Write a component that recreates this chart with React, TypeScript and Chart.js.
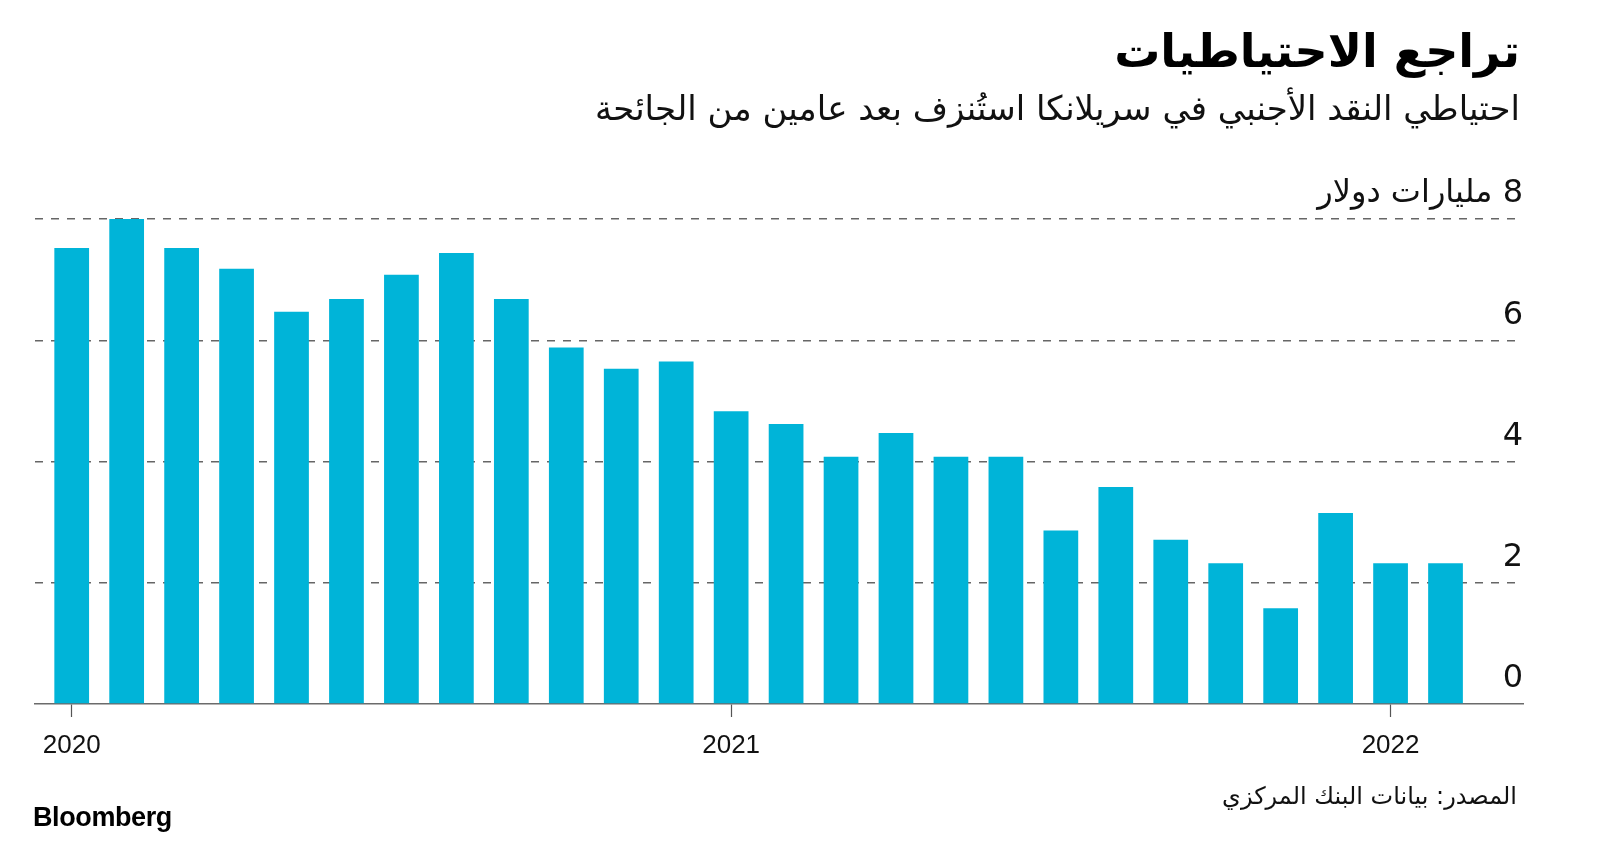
import React, { useEffect, useRef } from "react";
import { Chart, registerables } from "chart.js";

Chart.register(...registerables);

// Monthly foreign reserves, Jan 2020 .. Feb 2022 (USD billions)
const months = [
  "2020-01", "2020-02", "2020-03", "2020-04", "2020-05", "2020-06",
  "2020-07", "2020-08", "2020-09", "2020-10", "2020-11", "2020-12",
  "2021-01", "2021-02", "2021-03", "2021-04", "2021-05", "2021-06",
  "2021-07", "2021-08", "2021-09", "2021-10", "2021-11", "2021-12",
  "2022-01", "2022-02",
];
const reserves = [
  7.52, 8.0, 7.52, 7.18, 6.47, 6.68, 7.08, 7.44, 6.68, 5.88, 5.53, 5.65,
  4.83, 4.62, 4.08, 4.47, 4.08, 4.08, 2.86, 3.58, 2.71, 2.32, 1.58, 3.15,
  2.32, 2.32,
];
const yearTickIndex = [0, 12, 24];
const yearTickLabels = ["2020", "2021", "2022"];
const yTickValues = [0, 2, 4, 6, 8];
const yUnit = "مليارات دولار";

const titleText = "تراجع الاحتياطيات";
const subtitleText = "احتياطي النقد الأجنبي في سريلانكا استُنزف بعد عامين من الجائحة";
const sourceText = "المصدر: بيانات البنك المركزي";
const brandText = "Bloomberg";

const ARABIC_FONT = "'DejaVu Sans', 'Noto Sans', sans-serif";
const LATIN_FONT = "'Liberation Sans', Arial, 'DejaVu Sans', sans-serif";

export default function App() {
  const canvasRef = useRef<HTMLCanvasElement | null>(null);

  useEffect(() => {
    const canvas = canvasRef.current;
    if (!canvas) return;
    const chart = new Chart(canvas, {
      type: "bar",
      data: {
        datasets: [
          {
            label: "reserves",
            data: reserves.map((v, i) => ({ x: i, y: v })) as any,
            backgroundColor: "#00b4d8",
            borderWidth: 0,
            barPercentage: 1,
            categoryPercentage: 0.632,
          },
        ],
      },
      options: {
        animation: false,
        responsive: false,
        maintainAspectRatio: false,
        layout: { padding: { top: 219, left: 35, right: 77, bottom: 0 } },
        plugins: {
          legend: { display: false },
          tooltip: { enabled: false },
          title: { display: false },
        },
        scales: {
          x: {
            type: "linear",
            min: -0.668,
            max: 26.41,
            offset: false,
            grid: {
              offset: false,
              drawOnChartArea: false,
              drawTicks: true,
              tickLength: 13,
              tickColor: "#555555",
              tickWidth: 1.2,
            },
            border: { display: true, color: "#6b6b6b", width: 1.5 },
            afterBuildTicks: (scale: any) => {
              scale.ticks = yearTickIndex.map((v) => ({ value: v }));
            },
            afterFit: (scale: any) => {
              scale.height = 138;
            },
            ticks: {
              autoSkip: false,
              maxRotation: 0,
              padding: 13,
              color: "#111111",
              font: { family: LATIN_FONT, size: 26 },
              callback: (value: any) => {
                const k = yearTickIndex.indexOf(Number(value));
                return k >= 0 ? yearTickLabels[k] : "";
              },
            },
          },
          y: {
            position: "right",
            min: 0,
            max: 8,
            afterBuildTicks: (scale: any) => {
              scale.ticks = yTickValues.map((v) => ({ value: v }));
            },
            afterFit: (scale: any) => {
              scale.width = 0;
            },
            grid: {
              drawTicks: false,
              lineWidth: 1.5,
              color: (ctx: any) =>
                ctx.tick && ctx.tick.value === 0 ? "rgba(0,0,0,0)" : "#666666",
            },
            border: { display: false, dash: [8, 8] },
            ticks: {
              mirror: true,
              padding: 0,
              labelOffset: -25,
              color: "#111111",
              font: { family: ARABIC_FONT, size: 32 },
              callback: (value: any) =>
                Number(value) === 8 ? `8 ${yUnit}` : String(value),
            },
          },
        },
      },
    } as any);
    return () => chart.destroy();
  }, []);

  return (
    <div
      style={{
        position: "fixed",
        left: 0,
        top: 0,
        width: 1600,
        height: 842,
        background: "#ffffff",
        overflow: "hidden",
      }}
    >
      <canvas
        ref={canvasRef}
        width={1600}
        height={842}
        dir="rtl"
        style={{ position: "absolute", left: 0, top: 0, width: 1600, height: 842, direction: "rtl" }}
      />
      <div
        dir="rtl"
        style={{
          position: "absolute",
          right: 80,
          top: 24,
          fontFamily: ARABIC_FONT,
          fontWeight: 700,
          fontSize: 46,
          lineHeight: 1.2,
          color: "#000",
          whiteSpace: "nowrap",
        }}
      >
        {titleText}
      </div>
      <div
        dir="rtl"
        style={{
          position: "absolute",
          right: 80,
          top: 88,
          fontFamily: ARABIC_FONT,
          fontSize: 34,
          lineHeight: 1.2,
          color: "#111",
          whiteSpace: "nowrap",
        }}
      >
        {subtitleText}
      </div>
      <div
        dir="rtl"
        style={{
          position: "absolute",
          right: 83,
          top: 782,
          fontFamily: ARABIC_FONT,
          fontSize: 24,
          lineHeight: 1.2,
          color: "#111",
          whiteSpace: "nowrap",
        }}
      >
        {sourceText}
      </div>
      <div
        style={{
          position: "absolute",
          left: 33,
          top: 804,
          fontFamily: LATIN_FONT,
          fontWeight: 700,
          fontSize: 27,
          lineHeight: 1,
          letterSpacing: -0.4,
          color: "#000",
          whiteSpace: "nowrap",
        }}
      >
        {brandText}
      </div>
    </div>
  );
}
